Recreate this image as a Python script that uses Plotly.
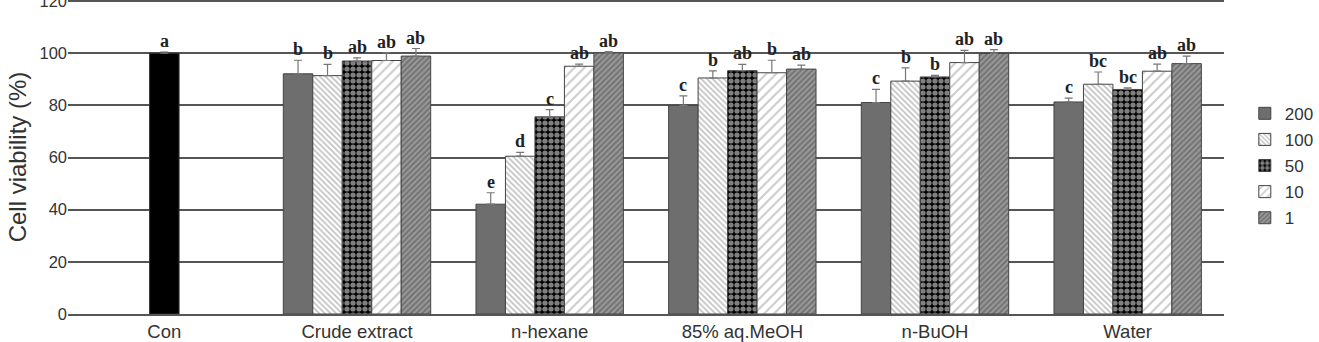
import plotly.graph_objects as go

categories = ["Con", "Crude extract", "n-hexane", "85% aq.MeOH", "n-BuOH", "Water"]
extracts = ["Crude extract", "n-hexane", "85% aq.MeOH", "n-BuOH", "Water"]
concentrations = ["200", "100", "50", "10", "1"]

con_value = [100.0]
con_err = [0.5]
con_letter = ["a"]

values = {
    "200": [92.1, 42.1, 80.0, 81.1, 81.3],
    "100": [91.4, 60.5, 90.5, 89.3, 88.1],
    "50":  [97.0, 75.6, 93.3, 90.9, 86.1],
    "10":  [97.2, 95.0, 92.5, 96.4, 93.1],
    "1":   [98.9, 100.1, 93.9, 99.9, 96.0],
}
errors = {
    "200": [5.2, 4.4, 3.6, 5.0, 1.5],
    "100": [4.3, 1.5, 2.7, 5.1, 4.7],
    "50":  [1.2, 2.8, 2.4, 0.6, 0.6],
    "10":  [2.9, 0.8, 4.8, 4.7, 2.7],
    "1":   [2.9, 0.5, 1.5, 1.5, 2.9],
}
letters = {
    "200": ["b", "e", "c", "c", "c"],
    "100": ["b", "d", "b", "b", "bc"],
    "50":  ["ab", "c", "ab", "b", "bc"],
    "10":  ["ab", "ab", "b", "ab", "ab"],
    "1":   ["ab", "ab", "ab", "ab", "ab"],
}
y_ticks = [0, 20, 40, 60, 80, 100, 120]

patterns = {
    "200": dict(shape="", fgcolor="#6e6e6e", bgcolor="#6e6e6e"),
    "100": dict(shape="\\", fgcolor="#808080", bgcolor="#ffffff", size=4, solidity=0.4),
    "50":  dict(shape=".", fgcolor="#ffffff", bgcolor="#000000", size=6, solidity=0.6),
    "10":  dict(shape="/", fgcolor="#9a9a9a", bgcolor="#ffffff", size=7, solidity=0.3),
    "1":   dict(shape="/", fgcolor="#4a4a4a", bgcolor="#9a9a9a", size=4, solidity=0.5),
}
fill = {"200": "#6e6e6e", "100": "#ffffff", "50": "#000000", "10": "#ffffff", "1": "#9a9a9a"}

bar_w = 0.153
fig = go.Figure()

fig.add_trace(go.Bar(
    x=["Con"], y=con_value, width=[bar_w], offset=[-bar_w / 2],
    marker=dict(color="#000000", line=dict(color="#333333", width=1)),
    error_y=dict(type="data", array=con_err, arrayminus=[0], symmetric=False,
                 color="#777777", thickness=1, width=4),
    showlegend=False, name="Con",
))

for i, c in enumerate(concentrations):
    off = -2.5 * bar_w + i * bar_w
    pat = dict(patterns[c])
    mk = dict(color=fill[c], line=dict(color="#444444", width=1))
    if pat["shape"]:
        mk["pattern"] = pat
    fig.add_trace(go.Bar(
        x=extracts, y=values[c], width=[bar_w] * len(extracts), offset=[off] * len(extracts),
        marker=mk, name=c, legendgroup=c,
        error_y=dict(type="data", array=errors[c], arrayminus=[0] * len(extracts),
                     symmetric=False, color="#777777", thickness=1.2, width=4),
    ))

letter_font = dict(family="Liberation Serif", size=18, color="#222222")
annotations = []
annotations.append(dict(x=0, y=con_value[0] + con_err[0], text="<b>%s</b>" % con_letter[0],
                        showarrow=False, yanchor="bottom", yshift=-1, font=letter_font))
for i, c in enumerate(concentrations):
    center_off = -2 * bar_w + i * bar_w
    for j, e in enumerate(extracts):
        xi = categories.index(e) + center_off
        annotations.append(dict(
            x=xi, y=values[c][j] + errors[c][j], text="<b>%s</b>" % letters[c][j],
            showarrow=False, yanchor="bottom", yshift=-1, font=letter_font))

fig.update_layout(
    width=1319, height=342,
    margin=dict(l=68, r=73, t=0, b=28),
    plot_bgcolor="#ffffff", paper_bgcolor="#ffffff",
    barmode="overlay",
    font=dict(family="Liberation Sans, Arial", color="#333333"),
    annotations=annotations,
    shapes=[dict(type="line", xref="paper", x0=0, x1=1, yref="y", y0=y_ticks[-1], y1=y_ticks[-1],
                 line=dict(color="#555555", width=1.5), layer="below")],
    legend=dict(x=1.018, y=0.695, xanchor="left", yanchor="top",
                font=dict(size=17, color="#333333"), traceorder="grouped",
                tracegroupgap=1, itemwidth=30, bgcolor="rgba(0,0,0,0)"),
    showlegend=True,
)
fig.update_xaxes(type="category", categoryorder="array", categoryarray=categories,
                 range=[-0.5, 5.5], showline=True, linecolor="#555555", linewidth=1.5,
                 ticks="", tickfont=dict(size=18.5, color="#333333"), showgrid=False,
                 automargin=False)
fig.update_yaxes(range=[0, 120.4], tickvals=y_ticks, automargin=False,
                 showgrid=True, gridcolor="#555555", gridwidth=1.5,
                 zeroline=False, showline=False, ticks="", ticklabeloverflow="allow",
                 tickfont=dict(size=16.5, color="#333333"),
                 title=dict(text="Cell viability (%)", font=dict(size=24, color="#333333"),
                            standoff=6))

fig.write_html("out.html")
